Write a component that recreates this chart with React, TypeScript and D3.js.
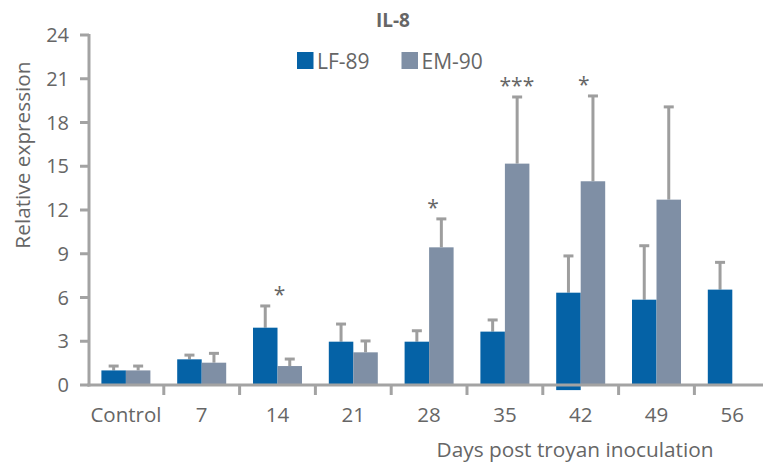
import React from 'react';
import * as d3 from 'd3';

const categories = ['Control', '7', '14', '21', '28', '35', '42', '49', '56'];
const lfValues = [1.0, 1.76, 3.93, 2.97, 2.97, 3.66, 6.33, 5.85, 6.54];
const lfErrors = [0.3, 0.29, 1.49, 1.21, 0.75, 0.8, 2.52, 3.7, 1.87];
const lfBases = [0, 0, 0, 0, 0, 0, -0.35, 0, 0];
const emValues: (number | null)[] = [1.0, 1.53, 1.3, 2.24, 9.44, 15.18, 13.97, 12.71, null];
const emErrors: (number | null)[] = [0.3, 0.64, 0.48, 0.78, 1.95, 4.57, 5.85, 6.36, null];
const significance = ['', '', '*', '', '*', '***', '*', '', ''];
const yTicks = [0, 3, 6, 9, 12, 15, 18, 21, 24];
const seriesNames = ['LF-89', 'EM-90'];

const W = 763;
const H = 462;
const COL_LF = '#0562a6';
const COL_EM = '#7f8fa5';
const AXIS = '#a3a3a3';
const ERR = '#9e9e9e';
const TEXT = '#666666';
const FONT = '"Open Sans", sans-serif';

export default function App() {
  const x = d3.scaleBand<string>().domain(categories).range([88, 770.2]).paddingInner(0).paddingOuter(0);
  const y = d3.scaleLinear().domain([0, 24]).range([385, 35]);
  const bw = 24.5;
  const step = x.bandwidth();

  const starDx = [0, 0, 2, 0, 4, 12, 3, 0, 0];

  return (
    <svg width={W} height={H} style={{ position: 'absolute', left: 0, top: 0, background: '#fff' }} fontFamily={FONT}>
      {/* title */}
      <text x={393} y={27} textAnchor="middle" fontSize={19} fontWeight="bold" fill={TEXT}>IL-8</text>
      {/* legend */}
      {seriesNames.map((s, i) => {
        const lx = i === 0 ? 297 : 401.5;
        return (
          <g key={s}>
            <rect x={lx} y={52} width={16.5} height={17} fill={i === 0 ? COL_LF : COL_EM} />
            <text x={lx + 20} y={69} fontSize={21} fill={TEXT}>{s}</text>
          </g>
        );
      })}

      {/* bars */}
      {categories.map((c, i) => {
        const cx = (x(c) as number) + step / 2;
        const lfX = cx - bw;
        const emX = cx;
        const ev = emValues[i];
        const ee = emErrors[i];
        const lfTop = lfValues[i] + lfErrors[i];
        const emTop = ev != null && ee != null ? ev + ee : -Infinity;
        const maxTop = Math.max(lfTop, emTop);
        return (
          <g key={c}>
            <line x1={lfX + bw / 2} x2={lfX + bw / 2} y1={y(lfValues[i])} y2={y(lfTop)} stroke={ERR} strokeWidth={3} />
            <line x1={lfX + bw / 2 - 5} x2={lfX + bw / 2 + 5} y1={y(lfTop)} y2={y(lfTop)} stroke={ERR} strokeWidth={3} />
            <rect x={lfX} y={y(lfValues[i])} width={bw} height={y(lfBases[i]) - y(lfValues[i])} fill={COL_LF} />
            {ev != null && ee != null && (
              <g>
                <line x1={emX + bw / 2} x2={emX + bw / 2} y1={y(ev)} y2={y(emTop)} stroke={ERR} strokeWidth={3} />
                <line x1={emX + bw / 2 - 5} x2={emX + bw / 2 + 5} y1={y(emTop)} y2={y(emTop)} stroke={ERR} strokeWidth={3} />
                <rect x={emX} y={y(ev)} width={bw} height={y(0) - y(ev)} fill={COL_EM} />
              </g>
            )}
            {significance[i] && (
              <text x={cx + starDx[i]} y={y(maxTop) - 15 + 11} textAnchor="middle" fontSize={21} fill={TEXT}>{significance[i]}</text>
            )}
          </g>
        );
      })}

      {/* y axis */}
      <line x1={89} x2={89} y1={34} y2={386.5} stroke={AXIS} strokeWidth={3} />
      {yTicks.map(t => (
        <g key={t}>
          <line x1={80} x2={89} y1={y(t)} y2={y(t)} stroke={AXIS} strokeWidth={3} />
          <text x={69} y={y(t) + 7} textAnchor="end" fontSize={20} fill={TEXT}>{t}</text>
        </g>
      ))}
      {/* x axis */}
      <line x1={87.5} x2={W} y1={385} y2={385} stroke={AXIS} strokeWidth={3} />
      {categories.slice(1).map(c => (
        <line key={c} x1={x(c) as number} x2={x(c) as number} y1={385} y2={395} stroke={AXIS} strokeWidth={3} />
      ))}
      {categories.map(c => (
        <text key={c} x={(x(c) as number) + step / 2} y={422} textAnchor="middle" fontSize={20.5} fill={TEXT}>{c}</text>
      ))}

      {/* axis titles */}
      <text x={575} y={456.5} textAnchor="middle" fontSize={20.8} fill={TEXT}>Days post troyan inoculation</text>
      <text transform={`translate(29.5,155) rotate(-90)`} textAnchor="middle" fontSize={20.8} fill={TEXT}>Relative expression</text>
    </svg>
  );
}
